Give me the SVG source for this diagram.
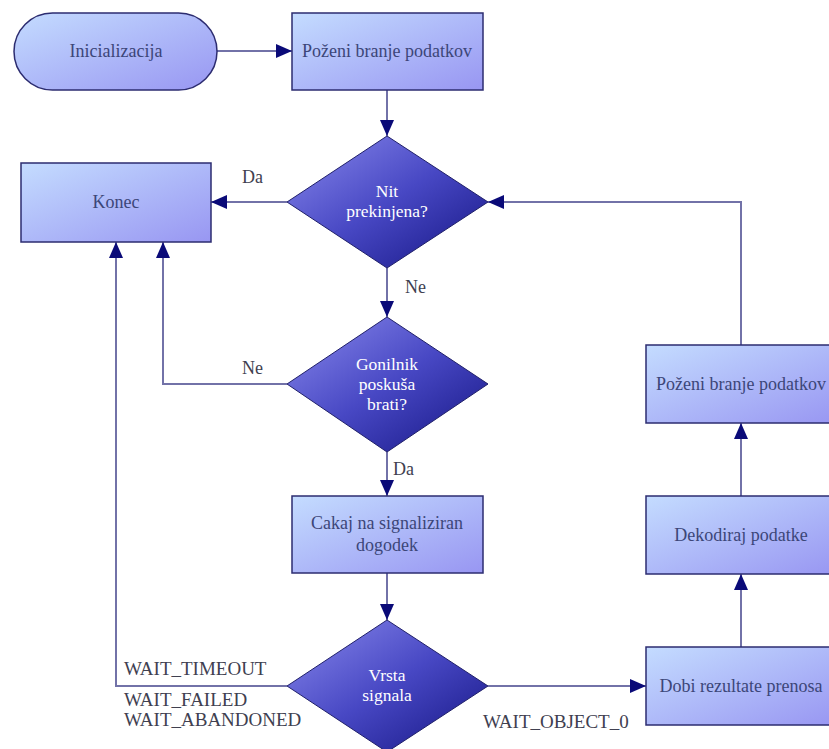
<svg xmlns="http://www.w3.org/2000/svg" width="829" height="749" viewBox="0 0 829 749" font-family="'Liberation Serif', 'Times New Roman', 'DejaVu Serif', serif">
<defs>
<linearGradient id="gBox" x1="0" y1="0" x2="1" y2="1">
<stop offset="0" stop-color="#c4dcff"/>
<stop offset="1" stop-color="#9896f2"/>
</linearGradient>
<linearGradient id="gDia" x1="0" y1="0" x2="1" y2="1">
<stop offset="0" stop-color="#8a8aec"/>
<stop offset="0.5" stop-color="#4848c4"/>
<stop offset="1" stop-color="#141482"/>
</linearGradient>
<marker id="arr" markerUnits="userSpaceOnUse" markerWidth="17" markerHeight="14" refX="16" refY="7" orient="auto">
<path d="M0,0 L16,7 L0,14 z" fill="#0a0a78"/>
</marker>
<style>
.box{fill:url(#gBox);stroke:#2c2c70;stroke-width:1.5}
.dia{fill:url(#gDia);stroke:#20206a;stroke-width:1}
.nt{font-size:18px;fill:#3c4678;text-anchor:middle}
.dt{font-size:17.5px;fill:#ffffff;text-anchor:middle}
.lb{font-size:18px;fill:#404050}
.wl{font-size:19px;fill:#404050}
.cn{fill:none;stroke:#7272a8;stroke-width:2;marker-end:url(#arr)}
</style>
</defs>
<rect width="829" height="749" fill="#ffffff"/>
<g id="connectors">
<path class="cn" d="M217,51 H292"/>
<path class="cn" d="M387,90 V136"/>
<path class="cn" d="M287,202 H211"/>
<path class="cn" d="M387,268 V317"/>
<path class="cn" d="M287,384 H163 V242"/>
<path class="cn" d="M387,452 V496"/>
<path class="cn" d="M387,573 V620"/>
<path class="cn" d="M287,686 H116 V242"/>
<path class="cn" d="M488,686 H646"/>
<path class="cn" d="M741,647 V574"/>
<path class="cn" d="M741,496 V423"/>
<path class="cn" d="M741,345 V202 H488"/>
<text class="lb" x="242" y="183">Da</text>
<text class="lb" x="405" y="293">Ne</text>
<text class="lb" x="242" y="374">Ne</text>
<text class="lb" x="393" y="475">Da</text>
<text class="wl" x="124" y="675">WAIT_TIMEOUT</text>
<text class="wl" x="124" y="706">WAIT_FAILED</text>
<text class="wl" x="124" y="726">WAIT_ABANDONED</text>
<text class="wl" x="483" y="728">WAIT_OBJECT_0</text>
</g>
<g id="inicializacija">
<rect class="box" x="14" y="13" width="203" height="77" rx="38.5" ry="38.5"/>
<text class="nt" x="116" y="57">Inicializacija</text>
</g>
<g id="pozeni1">
<rect class="box" x="292" y="13" width="191" height="77"/>
<text class="nt" x="387" y="57">Poženi branje podatkov</text>
</g>
<g id="konec">
<rect class="box" x="21" y="163" width="190" height="79"/>
<text class="nt" x="116" y="208">Konec</text>
</g>
<g id="nit">
<polygon class="dia" points="387,136 488,202 387,268 287,202"/>
<text class="dt" x="387" y="197">Nit</text>
<text class="dt" x="387" y="217">prekinjena?</text>
</g>
<g id="gonilnik">
<polygon class="dia" points="387,317 488,384 387,452 287,384"/>
<text class="dt" x="387" y="370">Gonilnik</text>
<text class="dt" x="387" y="390">poskuša</text>
<text class="dt" x="387" y="410">brati?</text>
</g>
<g id="cakaj">
<rect class="box" x="292" y="496" width="191" height="77"/>
<text class="nt" x="387" y="529">Cakaj na signaliziran</text>
<text class="nt" x="387" y="551">dogodek</text>
</g>
<g id="vrsta">
<polygon class="dia" points="387,620 488,686 387,752 287,686"/>
<text class="dt" x="387" y="681">Vrsta</text>
<text class="dt" x="387" y="701">signala</text>
</g>
<g id="dobi">
<rect class="box" x="646" y="647" width="191" height="78"/>
<text class="nt" x="741" y="692">Dobi rezultate prenosa</text>
</g>
<g id="dekodiraj">
<rect class="box" x="646" y="496" width="191" height="78"/>
<text class="nt" x="741" y="541">Dekodiraj podatke</text>
</g>
<g id="pozeni2">
<rect class="box" x="646" y="345" width="191" height="78"/>
<text class="nt" x="741" y="390">Poženi branje podatkov</text>
</g>
</svg>
